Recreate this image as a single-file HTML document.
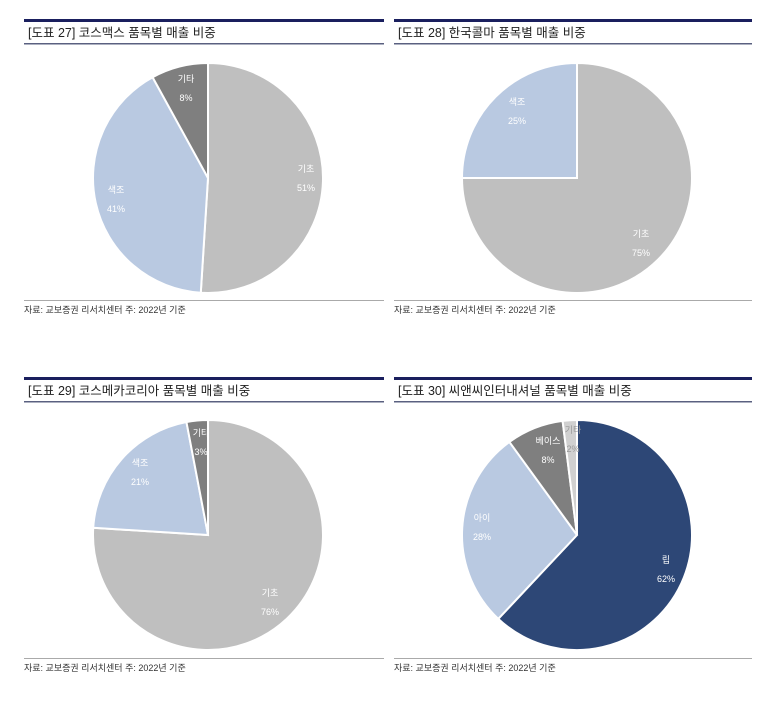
<!DOCTYPE html>
<html><head><meta charset="utf-8">
<style>
body{margin:0;background:#fff;width:773px;height:706px;overflow:hidden}
svg text{font-family:"Liberation Sans","Noto Sans CJK KR",sans-serif}
</style></head><body>
<svg id="s" width="773" height="706" xmlns="http://www.w3.org/2000/svg"></svg>
<script>
const s=document.getElementById('s');let h='';
function hdr(x1,x2,y,t){
 h+=`<rect x="${x1}" y="${y}" width="${x2-x1}" height="3" fill="#1a1f5e"/>`;
 h+=`<text x="${x1+4}" y="${y+18}" font-size="12.5" fill="#222">${t}</text>`;
 h+=`<rect x="${x1}" y="${y+24}" width="${x2-x1}" height="1.5" fill="#5a6080"/>`;
}
function src(x1,x2,y){
 h+=`<rect x="${x1}" y="${y}" width="${x2-x1}" height="1" fill="#aaa"/>`;
 h+=`<text x="${x1}" y="${y+13}" font-size="9" fill="#333">자료: 교보증권 리서치센터 주: 2022년 기준</text>`;
}
function pie(cx,cy,r,sl){
 let a=0;
 for(const [v,c,n,lx,ly,tc] of sl){
  const a0=a*2*Math.PI/100-Math.PI/2;a+=v;const a1=a*2*Math.PI/100-Math.PI/2;
  const x0=cx+r*Math.cos(a0),y0=cy+r*Math.sin(a0),x1=cx+r*Math.cos(a1),y1=cy+r*Math.sin(a1);
  h+=`<path d="M${cx},${cy}L${x0},${y0}A${r},${r} 0 ${v>50?1:0} 1 ${x1},${y1}Z" fill="${c}" stroke="#fff" stroke-width="2"/>`;
 }
 for(const [v,c,n,lx,ly,tc] of sl){
  h+=`<text x="${lx}" y="${ly}" font-size="9" fill="${tc||'#fff'}" text-anchor="middle">${n}</text>`;
  h+=`<text x="${lx}" y="${ly+19}" font-size="9" fill="${tc||'#fff'}" text-anchor="middle">${v}%</text>`;
 }
}
const G='#bfbfbf',B='#b9c9e1',D='#7f7f7f',N='#2d4776';
hdr(24,384,19,'[도표 27] 코스맥스 품목별 매출 비중');
hdr(394,752,19,'[도표 28] 한국콜마 품목별 매출 비중');
hdr(24,384,377,'[도표 29] 코스메카코리아 품목별 매출 비중');
hdr(394,752,377,'[도표 30] 씨앤씨인터내셔널 품목별 매출 비중');
pie(208,178,115,[[51,G,'기초',306,172],[41,B,'색조',116,193],[8,D,'기타',186,82]]);
pie(577,178,115,[[75,G,'기초',641,237],[25,B,'색조',517,105]]);
pie(208,535,115,[[76,G,'기초',270,596],[21,B,'색조',140,466],[3,D,'기타',201,436]]);
pie(577,535,115,[[62,N,'립',666,563],[28,B,'아이',482,521],[8,D,'베이스',548,444],[2,'#d0d0d0','기타',573,433,'#999']]);
src(24,384,300);src(394,752,300);src(24,384,658);src(394,752,658);
s.innerHTML=h;
</script>
</body></html>
